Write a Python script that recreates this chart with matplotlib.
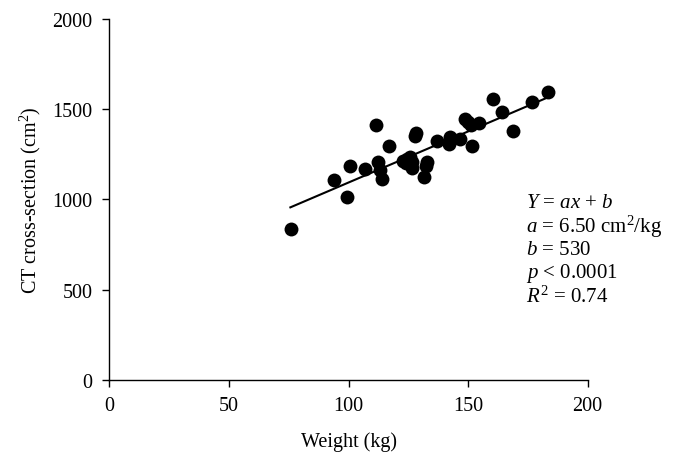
import numpy as np
import matplotlib
matplotlib.use('Agg')
import matplotlib.pyplot as plt

plt.rcParams['font.family'] = ['Liberation Serif', 'DejaVu Serif']
plt.rcParams['mathtext.fontset'] = 'custom'
plt.rcParams['mathtext.rm'] = 'Liberation Serif'
plt.rcParams['mathtext.it'] = 'Liberation Serif:italic'

# data
weight = [75.8, 93.9, 99.5, 100.6, 106.9, 111.5, 112.5, 113.2, 114.2, 117.1,
          122.9, 124.3, 125.7, 126.5, 126.4, 127.8, 128.2, 131.6, 132.2, 132.7,
          136.9, 142.4, 142.2, 146.6, 148.7, 150.0, 151.2, 154.6, 151.5, 160.5,
          164.0, 168.6, 176.6, 183.5, 124.0]
ct_area = [839, 1108, 1014, 1183, 1169, 1413, 1208, 1163, 1111, 1298,
           1215, 1224, 1233, 1208, 1175, 1352, 1368, 1125, 1188, 1208,
           1324, 1345, 1307, 1335, 1446, 1429, 1413, 1424, 1298, 1557,
           1483, 1381, 1542, 1594, 1200]

# regression line as drawn
fit_slope = 5.66
fit_intercept = 528
fit_range = [75.7, 185.5]

stats_lines = ['$Y$ = $ax$ + $b$',
               '$a$ = 6.50 cm$^2$/kg',
               '$b$ = 530',
               '$p$ < 0.0001',
               '$R^2$ = 0.74']

fig = plt.figure(figsize=(6.82, 4.64), dpi=100)
ax = fig.add_axes([0.1603, 0.1789, 0.7014, 0.778])

ax.scatter(weight, ct_area, s=100, color='black', zorder=3, linewidths=0)
lx = np.array(fit_range)
ax.plot(lx, fit_slope * lx + fit_intercept, color='black', lw=1.5, zorder=2)

ax.set_xlim(0, 200)
ax.set_ylim(0, 2000)
ax.set_xticks([0, 50, 100, 150, 200])
ax.set_yticks([0, 500, 1000, 1500, 2000])
for s in ['top', 'right']:
    ax.spines[s].set_visible(False)
for s in ['left', 'bottom']:
    ax.spines[s].set_linewidth(1.0)
ax.tick_params(direction='out', length=5, width=1.0, labelsize=14.5)
ax.tick_params(axis='x', pad=6.5)
ax.tick_params(axis='y', pad=7)

ax.set_xlabel('Weight (kg)', fontsize=14.5, labelpad=11.5)
ax.set_ylabel('CT cross-section (cm$^2$)', fontsize=14.5, labelpad=7)

y0 = 0.492
for i, t in enumerate(stats_lines):
    ax.text(0.872, y0 - i * 0.0647, t, transform=ax.transAxes,
            fontsize=15, va='center', ha='left')

fig.savefig('out.png', dpi=100)
